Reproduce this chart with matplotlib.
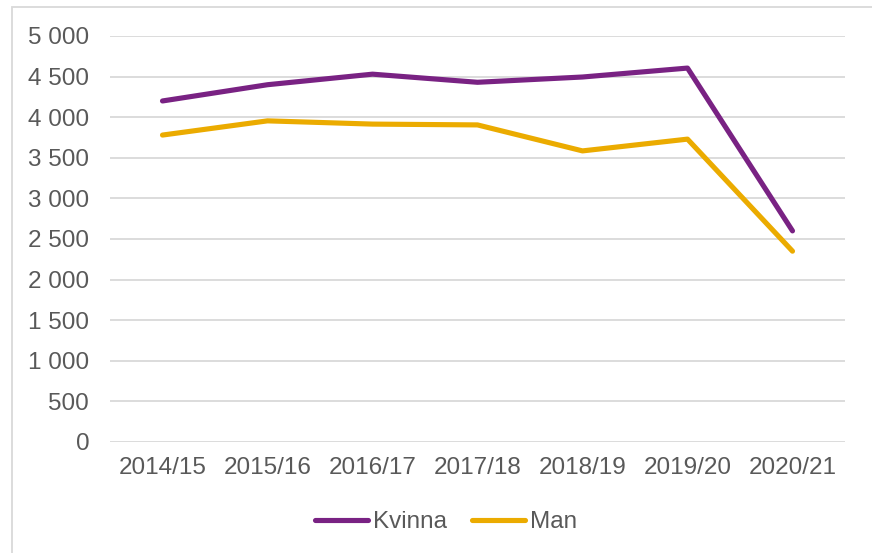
import matplotlib
matplotlib.use('Agg')
import matplotlib.pyplot as plt
from matplotlib.patches import Rectangle
from matplotlib.ticker import FuncFormatter

plt.rcParams['font.family'] = ['Liberation Sans', 'DejaVu Sans']

# Values
years = ['2014/15', '2015/16', '2016/17', '2017/18', '2018/19', '2019/20', '2020/21']
kvinna = [4200, 4400, 4530, 4430, 4495, 4605, 2600]
man = [3780, 3955, 3915, 3905, 3585, 3730, 2350]

text_col = '#595959'
grid_col = '#D9D9D9'

W, H = 872, 553
fig = plt.figure(figsize=(W / 100, H / 100), dpi=100)
ax = fig.add_axes([110 / W, 1 - 442 / H, 735 / W, 406 / H])

x = range(len(years))
ax.plot(x, kvinna, color='#792283', lw=3.7, solid_capstyle='round', label='Kvinna')
ax.plot(x, man, color='#EBAB00', lw=3.7, solid_capstyle='round', label='Man')

ax.set_xlim(-0.5, len(years) - 0.5)
ax.set_ylim(0, 5000)
ax.set_yticks(range(0, 5001, 500))
ax.yaxis.set_major_formatter(FuncFormatter(lambda v, p: f'{int(v):,}'.replace(',', ' ')))
ax.set_xticks(list(x))
ax.set_xticklabels(years)

ax.grid(axis='y', color=grid_col, lw=1.3)
ax.set_axisbelow(True)
for s in ax.spines.values():
    s.set_visible(False)
ax.tick_params(axis='both', length=0, labelsize=17.5, colors=text_col)
ax.tick_params(axis='y', pad=15)
ax.tick_params(axis='x', pad=11)

# outer chart frame (only top and left edges visible in the crop)
fig.patches.append(Rectangle((12 / W, -0.1), 1.2, 1.1 - 7 / H, transform=fig.transFigure,
                             fill=False, edgecolor=grid_col, lw=1.3))

leg = fig.legend(loc='center', bbox_to_anchor=(446 / W, 1 - 522 / H), ncol=2, frameon=False,
                 fontsize=17.5, handlelength=2.2, handletextpad=0.2, columnspacing=1.0)
for t in leg.get_texts():
    t.set_color(text_col)

fig.savefig('out.png', dpi=100)
